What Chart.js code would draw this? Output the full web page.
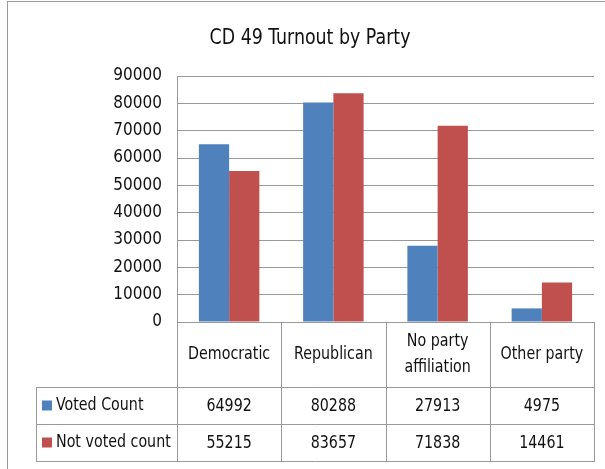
<!DOCTYPE html>
<html>
<head>
<meta charset="utf-8">
<script src="https://cdn.jsdelivr.net/npm/chart.js@4"></script>
<style>
  html, body { margin: 0; padding: 0; background: #fff; }
  canvas { display: block; }
</style>
</head>
<body>
<canvas id="chart" width="605" height="469"></canvas>
<script>
// chart data
const categories = [['Democratic'], ['Republican'], ['No party', 'affiliation'], ['Other party']];
const seriesNames = ['Voted Count', 'Not voted count'];
const votedCount = [64992, 80288, 27913, 4975];
const notVotedCount = [55215, 83657, 71838, 14461];
const seriesColors = ['#4F81BD', '#C0504D'];
const yMax = 90000;
const yStep = 10000;

const FONT = '"DejaVu Sans Condensed", "DejaVu Sans", sans-serif';
const lineColor = '#999999';
const textColor = '#111111';
const squeeze = 0.88; // narrow the text a bit, closer to the original face

function drawText(ctx, text, x, y, align) {
  ctx.save();
  ctx.translate(x, y);
  ctx.scale(squeeze, 1);
  ctx.textAlign = align || 'center';
  ctx.fillText(text, 0, 0);
  ctx.restore();
}

// draws frame, title and the data table under the plot
const tablePlugin = {
  id: 'dataTable',
  beforeDraw(chart) {
    const ctx = chart.ctx;
    ctx.save();
    ctx.strokeStyle = lineColor;
    ctx.lineWidth = 1;
    ctx.strokeRect(7.5, 1.5, 700, 700);
    ctx.restore();
  },
  afterDraw(chart) {
    const ctx = chart.ctx;
    const x = chart.scales.x;
    const area = chart.chartArea;
    const n = categories.length;
    const colW = (area.right - area.left) / n;
    const headBottom = area.bottom + 65;
    const rowH = 37;
    const tableLeft = 36;

    ctx.save();
    ctx.textBaseline = 'middle';
    ctx.fillStyle = textColor;
    // title
    ctx.font = '22px ' + FONT;
    drawText(ctx, 'CD 49 Turnout by Party', 310, 38);

    // grid lines of the table
    ctx.strokeStyle = lineColor;
    ctx.lineWidth = 1;
    ctx.beginPath();
    for (let i = 0; i <= n; i++) {
      const px = Math.round(area.left + i * colW) + 0.5;
      ctx.moveTo(px, area.bottom);
      ctx.lineTo(px, headBottom + rowH * seriesNames.length);
    }
    ctx.moveTo(tableLeft + 0.5, headBottom);
    ctx.lineTo(tableLeft + 0.5, headBottom + rowH * seriesNames.length);
    for (let r = 0; r <= seriesNames.length; r++) {
      const py = Math.round(headBottom + r * rowH) + 0.5;
      ctx.moveTo(tableLeft, py);
      ctx.lineTo(area.right + 1, py);
    }
    ctx.stroke();

    // category headers
    ctx.font = '18px ' + FONT;
    categories.forEach((lines, i) => {
      const cx = x.getPixelForValue(i);
      const mid = (area.bottom + headBottom) / 2;
      lines.forEach((t, k) => {
        drawText(ctx, t, cx, mid + (k - (lines.length - 1) / 2) * 26);
      });
    });

    // rows
    const rows = [votedCount, notVotedCount];
    rows.forEach((vals, r) => {
      const cy = headBottom + r * rowH + rowH / 2;
      vals.forEach((v, i) => {
        drawText(ctx, String(v), x.getPixelForValue(i), cy + 1);
      });
      ctx.fillStyle = seriesColors[r];
      ctx.fillRect(tableLeft + 6, cy - 5, 10, 10);
      ctx.fillStyle = textColor;
      drawText(ctx, seriesNames[r], tableLeft + 20, cy, 'left');
    });
    ctx.restore();
  }
};

new Chart(document.getElementById('chart'), {
  type: 'bar',
  data: {
    labels: categories,
    datasets: [
      { label: seriesNames[0], data: votedCount, backgroundColor: seriesColors[0] },
      { label: seriesNames[1], data: notVotedCount, backgroundColor: seriesColors[1] }
    ]
  },
  options: {
    responsive: false,
    animation: false,
    layout: { padding: { left: 0, right: 11, top: 76, bottom: 147 } },
    datasets: { bar: { categoryPercentage: 0.58, barPercentage: 1 } },
    plugins: { legend: { display: false }, tooltip: { enabled: false } },
    scales: {
      x: { display: false },
      y: {
        min: 0,
        max: yMax,
        afterFit(scale) { scale.width = 177; },
        ticks: {
          stepSize: yStep,
          padding: 15,
          color: textColor,
          font: { family: FONT, size: 17 },
          callback: (v) => String(v)
        },
        grid: { color: lineColor, drawTicks: false },
        border: { color: lineColor }
      }
    }
  },
  plugins: [tablePlugin]
});
</script>
</body>
</html>
